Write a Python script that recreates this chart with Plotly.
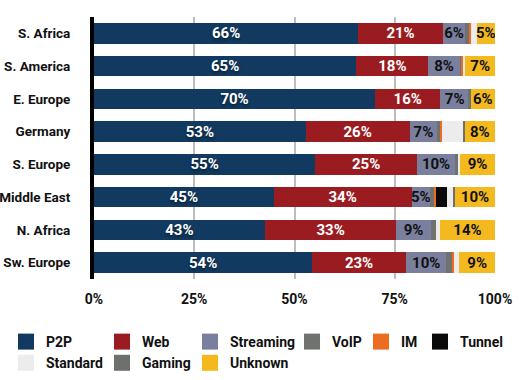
import plotly.graph_objects as go

categories = ["S. Africa", "S. America", "E. Europe", "Germany",
              "S. Europe", "Middle East", "N. Africa", "Sw. Europe"]

p2p       = [65.9, 65.4, 70.1, 52.8, 55.2, 44.8, 42.6, 54.4]
web       = [21.1, 18.0, 16.3, 25.9, 25.3, 34.4, 32.8, 23.4]
streaming = [5.6, 7.8, 7.1, 6.9, 9.6, 4.6, 8.6, 10.1]
voip      = [1.0, 0.5, 0.4, 0.7, 0.6, 1.1, 1.3, 1.6]
im        = [0.3, 0.3, 0.0, 0.4, 0.0, 0.4, 0.0, 0.35]
tunnel    = [0.0, 0.0, 0.0, 0.0, 0.0, 2.8, 0.0, 0.0]
standard  = [1.5, 0.6, 0.0, 5.2, 0.6, 1.6, 1.0, 1.25]
gaming    = [0.0, 0.0, 0.0, 0.5, 0.0, 0.3, 0.0, 0.0]
unknown   = [4.6, 7.4, 6.1, 7.6, 8.7, 10.0, 13.7, 8.9]

x_ticks = [0, 25, 50, 75, 100]
x_tick_labels = ["0%", "25%", "50%", "75%", "100%"]

FONT = "Liberation Sans Narrow, Roboto, Liberation Sans, sans-serif"

series = [
    # name, values, color, label color (None = no label), legend id
    ("P2P", p2p, "#12395f", "#ffffff", "legend"),
    ("Web", web, "#9b1c20", "#ffffff", "legend2"),
    ("Streaming", streaming, "#7a7f9e", "#111111", "legend3"),
    ("VoIP", voip, "#707270", None, "legend4"),
    ("IM", im, "#ee6b22", None, "legend5"),
    ("Tunnel", tunnel, "#0a0a0a", None, "legend6"),
    ("Standard", standard, "#ececec", None, "legend"),
    ("Gaming", gaming, "#6e706e", None, "legend2"),
    ("Unknown", unknown, "#f4b91e", "#111111", "legend3"),
]

W, H = 528, 380
ML, MR, MT, MB = 94, 33, 17, 101
PW, PH = W - ML - MR, H - MT - MB

fig = go.Figure()
for name, vals, color, tcolor, leg in series:
    if tcolor:
        tf = dict(family=FONT, size=15, color=tcolor, weight=700)
        if name == "P2P":
            tf["shadow"] = "0px 2px 3px rgba(0,0,0,0.45)"
        kw = dict(texttemplate="%{x:.0f}%", textposition="inside",
                  insidetextanchor="middle", textangle=0, textfont=tf)
    else:
        kw = dict(textposition="none")
    fig.add_trace(go.Bar(
        y=categories, x=vals, name=name, orientation="h",
        marker=dict(color=color, line=dict(width=0)),
        showlegend=False, hoverinfo="skip", **kw))

# legend proxies (square swatches) on a hidden helper axis pair
for name, vals, color, tcolor, leg in series:
    fig.add_trace(go.Scatter(
        x=[None], y=[None], mode="markers", name=name,
        xaxis="x2", yaxis="y2", legendgroup=name,
        marker=dict(symbol="square", size=18, color=color),
        showlegend=True, legend=leg, hoverinfo="skip"))

col_swatch_centers = [27, 123, 211, 313, 382, 441]
legend_ids = ["legend", "legend2", "legend3", "legend4", "legend5", "legend6"]
legend_layout = {}
for lid, cx in zip(legend_ids, col_swatch_centers):
    legend_layout[lid] = dict(
        x=(cx - 21 - ML) / PW, xref="paper", xanchor="left",
        y=1 - (326 - MT) / PH, yref="paper", yanchor="top",
        orientation="v", traceorder="normal", tracegroupgap=2,
        bgcolor="rgba(0,0,0,0)", borderwidth=0,
        font=dict(family=FONT, size=14, color="#111111", weight=700),
        itemclick=False, itemdoubleclick=False,
    )

fig.update_layout(
    width=W, height=H,
    margin=dict(l=ML, r=MR, t=MT, b=MB, autoexpand=False),
    barmode="stack", bargap=0.37,
    plot_bgcolor="white", paper_bgcolor="white",
    font=dict(family=FONT, size=14, color="#111111", weight=700),
    uniformtext=dict(minsize=15, mode="show"),
    xaxis=dict(range=[0, 100], tickmode="array", tickvals=x_ticks,
               ticktext=x_tick_labels,
               showgrid=True, gridcolor="#bdbdbd", gridwidth=2,
               zeroline=False, showline=False, ticks="",
               ticklabelstandoff=10,
               tickfont=dict(family=FONT, size=14, color="#111111", weight=700),
               fixedrange=True),
    yaxis=dict(autorange="reversed", showline=True, linecolor="#000000",
               linewidth=4, showgrid=False, ticks="", ticklabelstandoff=17,
               tickfont=dict(family=FONT, size=13.5, color="#111111", weight=700),
               fixedrange=True),
    xaxis2=dict(range=[0, 1], visible=False, overlaying="x", fixedrange=True),
    yaxis2=dict(range=[0, 1], visible=False, overlaying="y", fixedrange=True),
    **legend_layout,
)

fig.write_html("out.html", config={"displayModeBar": False},
               post_script="document.body.style.margin='0px';")
